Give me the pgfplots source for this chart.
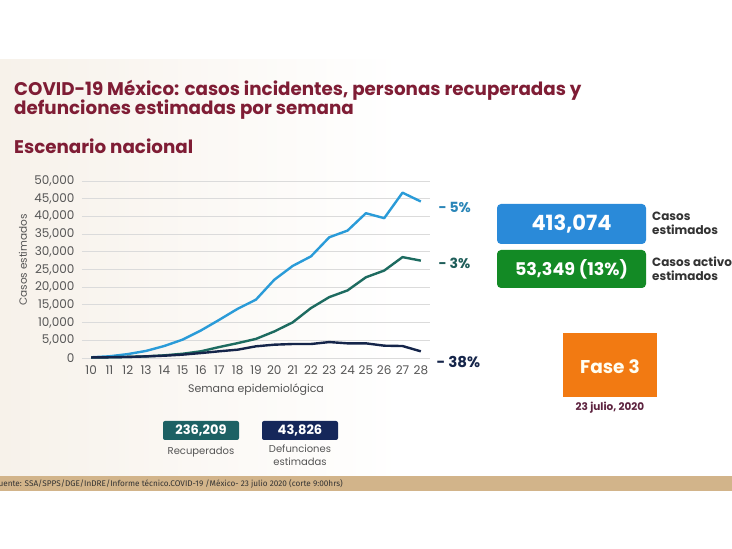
\documentclass[border=0pt]{standalone}
\usepackage{pgfplots}
\pgfplotsset{compat=1.18}
\usepackage{fontspec}
\setmainfont{Poppins}
\newfontfamily\titlefont{Fira Sans}
\definecolor{maroon}{HTML}{7F1D35}
\definecolor{cblue}{HTML}{2A9BD8}
\definecolor{cteal}{HTML}{1D6B60}
\definecolor{cnavy}{HTML}{15254A}
\definecolor{boxblue}{HTML}{2A8AD9}
\definecolor{boxgreen}{HTML}{138A25}
\definecolor{boxorange}{HTML}{F27A12}
\definecolor{boxteal}{HTML}{1D6164}
\definecolor{boxnavy}{HTML}{15275A}
\definecolor{tickgray}{HTML}{555555}
\definecolor{bartan}{HTML}{D2B48A}
\definecolor{pctblue}{HTML}{2B86B8}
\definecolor{pctteal}{HTML}{1F5E5A}
\definecolor{datemaroon}{HTML}{5E2440}
\begin{document}
\begin{tikzpicture}[x=1pt,y=1pt]
\useasboundingbox (0,0) rectangle (732,549);
\clip (0,0) rectangle (732,549);
\fill[white] (0,0) rectangle (732,549);
\shade[left color=bartan!18, right color=white] (0,73) rectangle (400,489);
% titles
\node[anchor=base west, inner sep=0, text=maroon, font=\bfseries\fontsize{18.3}{20}\selectfont] at (14,453) {COVID-19 México: casos incidentes, personas recuperadas y};
\node[anchor=base west, inner sep=0, text=maroon, font=\bfseries\fontsize{18.3}{20}\selectfont] at (14,434) {defunciones estimadas por semana};
\node[anchor=base west, inner sep=0, text=maroon, font=\bfseries\fontsize{18.3}{20}\selectfont] at (14,395) {Escenario nacional};
\begin{axis}[
  at={(82pt,191pt)}, anchor=south west,
  scale only axis, width=348pt, height=177pt,
  xmin=9.5, xmax=28.5, ymin=0, ymax=50000,
  axis line style={draw=none}, tick style={draw=none},
  ymajorgrids, grid style={black!14, line width=0.9pt},
  xtick={10,...,28}, ytick={0,5000,...,50000},
  scaled ticks=false,
  /pgf/number format/.cd, 1000 sep={,}, assume math mode=true,
  /pgfplots/.cd,
  tick label style={font=\fontsize{12}{13}\selectfont, text=tickgray},
  yticklabel style={xshift=-4pt},
  xticklabel style={yshift=-4pt},
  clip=false,
]
\addplot[cblue, line width=2.4pt, line join=round] coordinates {
(10,200) (11,480) (12,1100) (13,2000) (14,3400) (15,5200) (16,7800) (17,10800) (18,13900) (19,16500) (20,22100) (21,26000) (22,28700) (23,34100) (24,36000) (25,40900) (26,39500) (27,46700) (28,44200)};
\addplot[cteal, line width=2.4pt, line join=round] coordinates {
(10,150) (11,200) (12,300) (13,470) (14,750) (15,1200) (16,1900) (17,3100) (18,4200) (19,5400) (20,7500) (21,10050) (22,14100) (23,17200) (24,19100) (25,22800) (26,24700) (27,28500) (28,27500)};
\addplot[cnavy, line width=2.4pt, line join=round] coordinates {
(10,150) (11,200) (12,300) (13,450) (14,650) (15,950) (16,1400) (17,1900) (18,2350) (19,3300) (20,3760) (21,3950) (22,3950) (23,4500) (24,4140) (25,4140) (26,3480) (27,3380) (28,1880)};
\end{axis}
\node[rotate=90, text=tickgray, font=\fontsize{10.5}{12}\selectfont] at (23,289) {Casos estimados};
\node[text=tickgray, font=\fontsize{11}{12}\selectfont] at (256,159) {Semana epidemiológica};
% percentages
\node[anchor=west, text=pctblue, font=\bfseries\fontsize{14}{16}\selectfont] at (435,342) {- 5\%};
\node[anchor=west, text=pctteal, font=\bfseries\fontsize{14}{16}\selectfont] at (435,286) {- 3\%};
\node[anchor=west, text=cnavy, font=\bfseries\fontsize{15}{17}\selectfont] at (433,187) {- 38\%};
% right boxes
\fill[boxblue, rounded corners=4pt] (497,305) rectangle (646,345);
\node[text=white, font=\bfseries\fontsize{21}{24}\selectfont] at (571.5,325) {413,074};
\fill[boxgreen, rounded corners=4pt] (497,261) rectangle (646,299);
\node[text=white, font=\bfseries\fontsize{17.5}{20}\selectfont] at (571.5,280) {53,349 (13\%)};
\node[anchor=north west, align=left, inner sep=0, text=black!80, font=\bfseries\fontsize{12}{13.5}\selectfont] at (652,337) {Casos\\estimados};
\node[anchor=north west, align=left, inner sep=0, text=black!80, font=\bfseries\fontsize{12}{13.5}\selectfont] at (652,292) {Casos activos\\estimados};
% orange
\fill[boxorange] (563,152) rectangle (657,216);
\node[text=white!95!yellow, font=\bfseries\fontsize{18.5}{20}\selectfont] at (610,182) {Fase 3};
\node[text=datemaroon, font=\bfseries\fontsize{10.5}{12}\selectfont] at (610,141) {23 julio, 2020};
% bottom boxes
\fill[boxteal, rounded corners=2pt] (163,109) rectangle (239,128);
\node[text=white, font=\bfseries\fontsize{13}{15}\selectfont] at (201,118.5) {236,209};
\node[text=tickgray, font=\fontsize{10}{12}\selectfont] at (201,97) {Recuperados};
\fill[boxnavy, rounded corners=2pt] (262,109) rectangle (338,128);
\node[text=white, font=\bfseries\fontsize{13}{15}\selectfont] at (300,118.5) {43,826};
\node[align=center, text=tickgray, font=\fontsize{10}{12.5}\selectfont] at (300,94) {Defunciones\\estimadas};
% footer
\fill[bartan] (0,58) rectangle (732,73);
\node[anchor=east, inner sep=0, text=black!80, font=\titlefont\fontsize{8.2}{9}\selectfont] at (343,65.5) {Fuente: SSA/SPPS/DGE/InDRE/Informe técnico.COVID-19 /México- 23 julio 2020 (corte 9:00hrs)};
\end{tikzpicture}
\end{document}
